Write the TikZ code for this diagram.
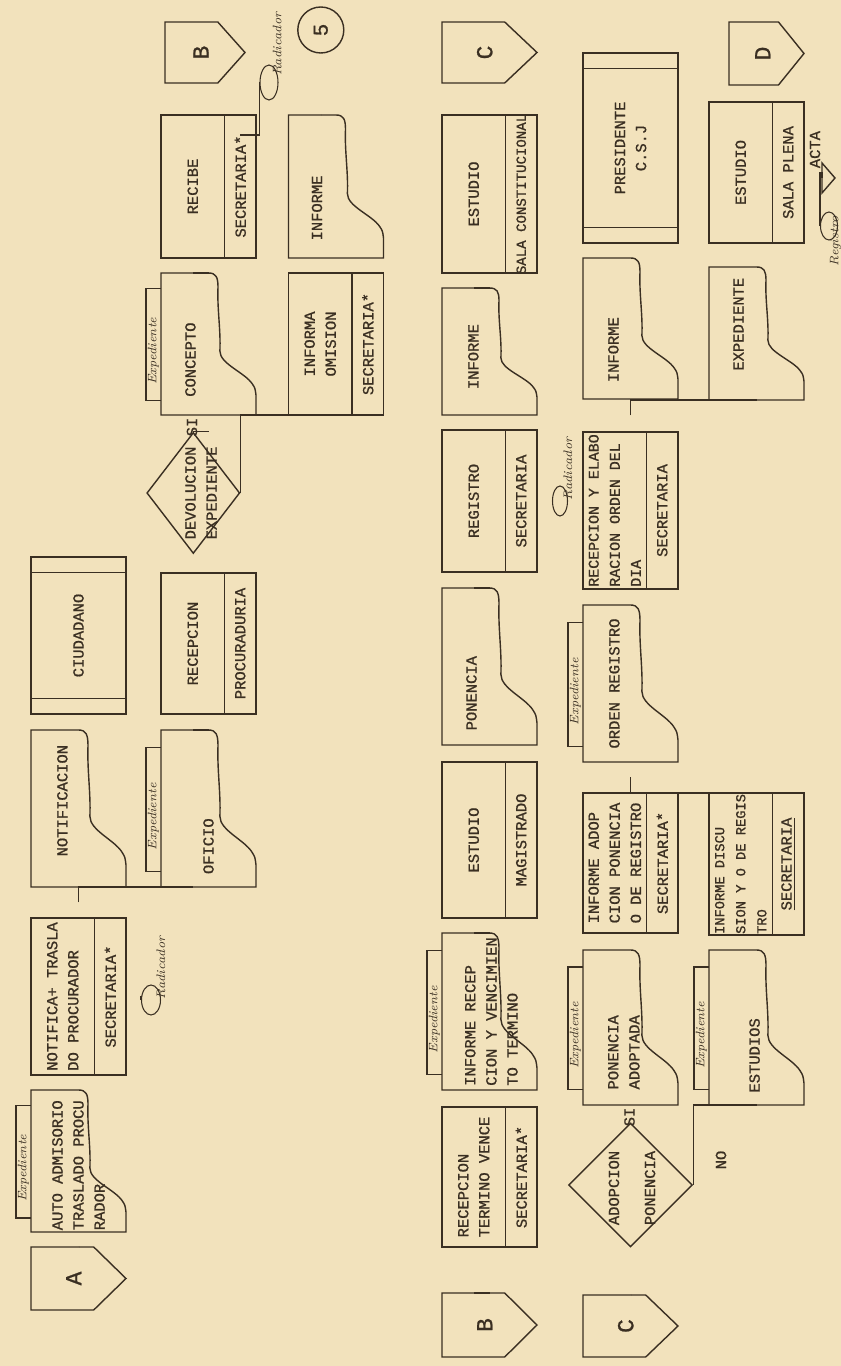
\documentclass[tikz,border=0pt]{standalone}
\usepackage{fontspec}
\usetikzlibrary{calc,positioning,shapes.geometric}
\newfontfamily\typefont{Liberation Mono}[FakeBold=1]
\definecolor{paper}{HTML}{F2E2BC}
\definecolor{ink}{HTML}{3A2F22}

\tikzset{
  ln/.style={draw=ink, line width=0.8pt},
  tw/.style={font=\typefont\fontsize{8.8}{12}\selectfont, text=ink, inner sep=0pt},
  hand/.style={font=\itshape\fontsize{7}{8}\selectfont, text=ink, inner sep=0pt},
  frame/.style={rectangle, inner sep=0pt, outer sep=0pt, minimum height=1.9cm},
  radic/.style={ellipse, draw=ink, line width=.6pt, inner sep=0pt},
}

% document sheet: name, west u, south w, width, text, text x, text y
\newcommand{\docu}[7]{%
  \begin{scope}[shift={(#2,#3)}, x=#4cm, y=1.9cm]
    \node[frame, minimum width=#4cm] (#1) at (.5,.5) {};
    \draw[ln] (1,1) -- (0,1) -- (0,0) -- (.14,0)
      .. controls (.19,.01) .. (.22,.04)
      .. controls (.3,.12) and (.36,.38) .. (.45,.38)
      .. controls (.6,.37) and (.75,.41) .. (.9,.4)
      .. controls (.97,.4) and (1,.42) .. (1,.5) -- cycle;
    \node[tw, align=left] (#1-t) at (#6,#7) {#5};
  \end{scope}}
% document with the Expediente tab
\newcommand{\docx}[7]{%
  \docu{#1}{#2}{#3}{#4}{#5}{#6}{#7}%
  \begin{scope}[shift={(#2,#3)}, x=#4cm, y=1.9cm]
    \draw[ln] (.1,1) -- (.1,1.16) -- (.89,1.16) -- (.89,1);
    \node[hand] (#1-x) at (.45,1.08) {Expediente};
  \end{scope}}
% process with responsible strip: [size], name, west u, south w, width, text, responsible
\newcommand{\proc}[7][8.8]{%
  \begin{scope}[shift={(#3,#4)}]
    \node[frame, draw=ink, line width=.8pt, minimum width=#5cm, anchor=south west] (#2) at (0,0) {};
    \draw[ln] (0,.63) -- (#5,.63);
    \node[tw, align=left, font=\typefont\fontsize{#1}{12}\selectfont] (#2-t) at (#5/2,1.265) {#6};
    \node[tw] (#2-r) at (#5/2,.315) {#7};
  \end{scope}}
% external entity
\newcommand{\ent}[5]{%
  \begin{scope}[shift={(#2,#3)}]
    \node[frame, draw=ink, line width=.8pt, minimum width=#4cm, anchor=south west] (#1) at (0,0) {};
    \draw[ln] (.31,0) -- (.31,1.9) (#4-.31,0) -- (#4-.31,1.9);
    \node[tw, align=center] (#1-t) at (#4/2,.95) {#5};
  \end{scope}}
% off-page connector: name, west u, south w, width, height, letter
\newcommand{\offp}[6]{%
  \begin{scope}[shift={(#2,#3)}, x=#4cm, y=#5cm]
    \node[frame, minimum width=#4cm, minimum height=#5cm] (#1) at (.5,.5) {};
    \draw[ln] (0,.34) -- (0,1) -- (1,1) -- (1,.34) -- (.5,0) -- cycle;
    \node[font=\typefont\fontsize{13}{13}\selectfont, text=ink] (#1-t) at (.5,.55) {#6};
  \end{scope}}
% flow line leaving a box at a fraction of its east side
\newcommand{\lnk}[3][.5]{%
  \path ($(#2.north east)!#1!(#2.south east)$) coordinate (#2-o);
  \draw[ln] (#2-o) -- (#2-o |- #3.west);}

\begin{document}
\begin{tikzpicture}
  \fill[paper] (0,0) rectangle (16.82,27.32);
  \useasboundingbox (0,0) rectangle (16.82,27.32);
  \begin{scope}[rotate=90, transform shape]
  % row 1
  \offp{offA}{1.12}{-2.52}{1.26}{1.9}{A}
  \docx{auto}{2.68}{-2.52}{2.84}{AUTO ADMISORIO\\TRASLADO PROCU\\RADOR}{.47}{.5}
  \proc{notifica}{5.82}{-2.52}{3.14}{NOTIFICA+ TRASLA\\DO PROCURADOR}{SECRETARIA*}
  \docu{notificacion}{9.58}{-2.52}{3.14}{NOTIFICACION}{.55}{.67}
  \ent{ciudadano}{13.04}{-2.52}{3.14}{CIUDADANO}
  \node[radic, minimum width=.6cm, minimum height=.38cm] (radnot) at (7.32,-3.02) {};
  \node[hand, anchor=west] (radnot-t) at (radnot.south) {Radicador};
  \lnk{offA}{auto}
  \lnk{auto}{notifica}
  \lnk{notifica}{notificacion}
  \lnk{notificacion}{ciudadano}
  \draw[ln] (notifica.south |- radnot.north) -- (radnot.north);
  % row 2
  \docx{oficio}{9.58}{-5.12}{3.14}{OFICIO}{.26}{.5}
  \proc{recepcion}{13.04}{-5.12}{2.82}{RECEPCION}{PROCURADURIA}
  \node[diamond, draw=ink, line width=.8pt, minimum width=2.42cm, minimum height=1.86cm, inner sep=0pt] (dev) at (17.46,-3.866) {};
  \node[tw, align=center] (dev-t) at (17.46,-4.02) {DEVOLUCION\\EXPEDIENTE};
  \docx{concepto}{19.02}{-5.12}{2.84}{CONCEPTO}{.39}{.69}
  \proc{recibe}{22.16}{-5.12}{2.86}{RECIBE}{SECRETARIA*}
  \offp{offBa}{25.66}{-4.9}{1.22}{1.6}{B}
  \node[radic, minimum width=.7cm, minimum height=.36cm] (radrec) at (25.67,-5.38) {};
  \node[hand, anchor=west] (radrec-t) at ($(radrec.south)!.5!(radrec.south east)$) {Radicador};
  \coordinate (jofi) at ($(notifica.east)!.5!(notificacion.west)$);
  \draw[ln] (jofi) -| ($(oficio.north west)!.34!(oficio.south west)$);
  \lnk[.34]{oficio}{recepcion}
  \lnk[.34]{recepcion}{dev}
  \draw[ln] (dev.east) -- (dev.east |- concepto.west);
  \node[tw] (sidev) at (18.78,-3.84) {SI};
  \lnk[.34]{concepto}{recibe}
  \lnk[.34]{recibe}{offBa}
  \draw[ln] (recibe-r.east) |- (radrec.north);
  % row 2b
  \proc{informa}{19.02}{-7.67}{2.84}{INFORMA\\OMISION}{SECRETARIA*}
  \docu{informe}{22.16}{-7.67}{2.86}{INFORME}{.35}{.7}
  \node[circle, draw=ink, line width=.8pt, minimum size=.92cm, inner sep=0pt, font=\typefont\fontsize{12}{12}\selectfont, text=ink] (cinco) at (26.72,-6.416) {5};
  \draw[ln] (dev.south) -| ($(informa.north west)!.34!(informa.south west)$);
  \lnk[.34]{informa}{informe}
  \lnk[.34]{informe}{cinco}
  % row 3
  \offp{offBb}{0.18}{-10.74}{1.28}{1.9}{B}
  \proc{termino}{2.38}{-10.74}{2.8}{RECEPCION\\TERMINO VENCE}{SECRETARIA*}
  \docx{informerec}{5.52}{-10.74}{3.14}{INFORME RECEP\\CION Y VENCIMIEN\\TO TERMINO}{.5}{.48}
  \proc{estmag}{8.96}{-10.74}{3.12}{ESTUDIO}{MAGISTRADO}
  \docu{ponencia}{12.42}{-10.74}{3.14}{PONENCIA}{.33}{.69}
  \proc{registro}{15.88}{-10.74}{2.84}{REGISTRO}{SECRETARIA}
  \docu{informetres}{19.02}{-10.74}{2.54}{INFORME}{.46}{.67}
  \proc{estsala}{21.86}{-10.74}{3.16}{ESTUDIO}{\fontsize{8}{10}\selectfont SALA CONSTITUCIONAL}
  \offp{offCa}{25.66}{-10.74}{1.22}{1.9}{C}
  \node[radic, minimum width=.6cm, minimum height=.3cm] (radreg) at (17.3,-11.2) {};
  \node[hand, anchor=west] (radreg-t) at (radreg.south) {Radicador};
  \lnk[.34]{offBb}{termino}
  \lnk[.34]{termino}{informerec}
  \lnk[.34]{informerec}{estmag}
  \lnk[.34]{estmag}{ponencia}
  \lnk[.34]{ponencia}{registro}
  \lnk[.34]{registro}{informetres}
  \lnk[.34]{informetres}{estsala}
  \lnk[.34]{estsala}{offCa}
  \draw[ln] (registro.south |- radreg.north) -- (radreg.north);
  % row 4
  \offp{offCb}{0.18}{-13.56}{1.24}{1.9}{C}
  \node[diamond, draw=ink, line width=.8pt, minimum width=2.48cm, minimum height=2.48cm, inner sep=0pt] (adop) at (3.62,-12.61) {};
  \node[tw, align=center] (adop-t) at (3.56,-12.64) {ADOPCION\\[3mm]PONENCIA};
  \docx{ponadop}{5.22}{-13.56}{3.1}{PONENCIA\\ADOPTADA}{.34}{.57}
  \proc{infadop}{8.66}{-13.56}{2.8}{INFORME ADOP\\CION PONENCIA\\O DE REGISTRO}{SECRETARIA*}
  \docx{orden}{12.08}{-13.56}{3.14}{ORDEN REGISTRO}{.5}{.67}
  \proc[8.5]{elabora}{15.54}{-13.56}{3.14}{RECEPCION Y ELABO\\RACION ORDEN DEL\\DIA}{SECRETARIA}
  \docu{informecuatro}{19.34}{-13.56}{2.82}{INFORME}{.35}{.68}
  \ent{presidente}{22.46}{-13.56}{3.8}{PRESIDENTE\\C.S.J}
  \lnk{offCb}{adop}
  \draw[ln] (adop.east) -- (adop.east |- ponadop.west);
  \node[tw] (siadop) at (4.98,-12.59) {SI};
  \lnk{ponadop}{infadop}
  \lnk{infadop}{orden}
  \lnk{orden}{elabora}
  \lnk{elabora}{informecuatro}
  \lnk{informecuatro}{presidente}
  % row 5
  \docx{estudios}{5.22}{-16.08}{3.1}{ESTUDIOS}{.32}{.52}
  \proc[7.8]{discusion}{8.62}{-16.08}{2.84}{INFORME DISCU\\SION Y O DE REGIS\\TRO}{\underline{SECRETARIA}}
  \docu{expediente}{19.32}{-16.08}{2.66}{EXPEDIENTE}{.57}{.69}
  \proc{salaplena}{22.46}{-16.08}{2.82}{ESTUDIO}{SALA PLENA}
  \offp{offD}{25.62}{-16.08}{1.26}{1.5}{D}
  \draw[ln] (adop.south) -| (estudios.west);
  \node[tw] (no) at (4.12,-14.42) {NO};
  \lnk{estudios}{discusion}
  \coordinate (jdis) at ($(infadop.east)!.5!(orden.west)$);
  \draw[ln] (jdis) -| (discusion.east);
  \coordinate (jexp) at ($(elabora.east)!.5!(informecuatro.west)$);
  \draw[ln] (jexp) -| (expediente.west);
  \lnk{expediente}{salaplena}
  \lnk{salaplena}{offD}
  % acta and registro
  \coordinate (acta) at (23.76,-16.44);
  \draw[ln] (23.46,-16.44) -- (24.06,-16.44) -- (23.76,-16.7) -- cycle;
  \node[tw, anchor=west] (acta-t) at (23.95,-16.3) {ACTA};
  \draw[ln] (salaplena.south |- acta) -- (acta);
  \node[radic, minimum width=.56cm, minimum height=.34cm] (reg) at (22.8,-16.58) {};
  \node[hand, anchor=east] (reg-t) at (reg.south east) {Registro};
  \draw[ln] (salaplena.south |- reg.north) -- (reg.north);
  \end{scope}
\end{tikzpicture}
\end{document}
